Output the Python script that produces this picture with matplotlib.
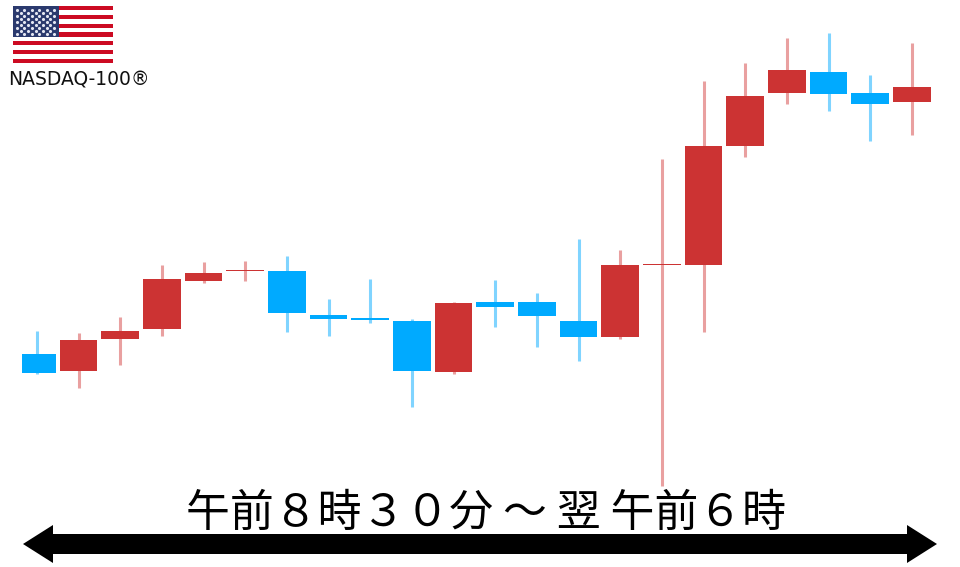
import matplotlib
matplotlib.use('Agg')
import matplotlib.pyplot as plt
import numpy as np

plt.rcParams['font.family'] = ['Noto Sans CJK JP', 'DejaVu Sans']

# candle values (price scale is arbitrary, no axis is shown)
opens = [213, 196, 228, 238, 286, 296, 296, 252, 249, 246, 195, 265, 265, 246, 230, 302, 302, 421, 474, 495, 474, 465]
closes = [194, 227, 236, 288, 294, 297, 254, 248, 247, 196, 264, 260, 251, 230, 302, 303, 421, 471, 497, 473, 463, 480]
highs = [236, 234, 250, 302, 305, 306, 311, 268, 288, 248, 265, 287, 274, 328, 317, 408, 486, 504, 529, 534, 492, 524]
lows = [193, 179, 202, 231, 284, 286, 235, 231, 244, 160, 193, 240, 220, 206, 228, 81, 235, 410, 463, 456, 426, 432]

title_text = '午前８時３０分 ～ 翌 午前６時'
flag_label = 'NASDAQ-100®'

RED = '#cc3333'
BLUE = '#00aaff'
RED_WICK = '#e9a0a0'
BLUE_WICK = '#80d4ff'

fig = plt.figure(figsize=(9.6, 5.67), dpi=100)
ax = fig.add_axes([0, 0, 1, 1])
ax.set_xlim(-0.885, 22.155)
ax.set_ylim(0, 567)
ax.axis('off')

x = np.arange(len(opens))
opens = np.array(opens)
closes = np.array(closes)
is_up = closes >= opens
body_colors = [RED if up else BLUE for up in is_up]
wick_colors = [RED_WICK if up else BLUE_WICK for up in is_up]

# wicks first so the bodies sit on top
ax.vlines(x, lows, highs, colors=wick_colors, linewidth=2.2, zorder=2)
bars = ax.bar(x, np.abs(closes - opens), bottom=np.minimum(opens, closes), width=0.91,
              color=body_colors, linewidth=0, zorder=3)
# the first candle is cut short on its left side in the picture
bars[0].set_x(-0.35)
bars[0].set_width(0.82)

# overlay in pixel units for the flag and the arrow
over = fig.add_axes([0, 0, 1, 1])
over.set_xlim(0, 960)
over.set_ylim(567, 0)
over.axis('off')
over.patch.set_alpha(0)

# flag
stripe_h = 57 / 13
for i in range(13):
    c = '#cc0a22' if i % 2 == 0 else 'white'
    over.fill_between([13, 113], 6 + i * stripe_h, 6 + (i + 1) * stripe_h, color=c, linewidth=0)
over.fill_between([13, 59], 6, 6 + 7 * stripe_h, color='#2b3a6e', linewidth=0)
for row in range(9):
    n = 6 if row % 2 == 0 else 5
    off = 0 if row % 2 == 0 else 3.7
    sx = 17 + off + np.arange(n) * 7.4
    sy = np.full(n, 9.5 + row * 3.1)
    over.scatter(sx, sy, s=5, color='#e4e7f2', linewidth=0, marker='o')

over.text(8, 80, flag_label, fontsize=13.5, family=['DejaVu Sans'], va='center', ha='left', color='#111111')

# double headed arrow
arrow_x = [23, 53, 53, 907, 907, 937, 907, 907, 53, 53]
arrow_y = [544, 525, 534, 534, 525, 544, 563, 554, 554, 563]
over.fill(arrow_x, arrow_y, color='black', linewidth=0)

over.text(486, 513, title_text, fontsize=31.6, ha='center', va='center', color='black')

plt.savefig('out.png', dpi=100)
